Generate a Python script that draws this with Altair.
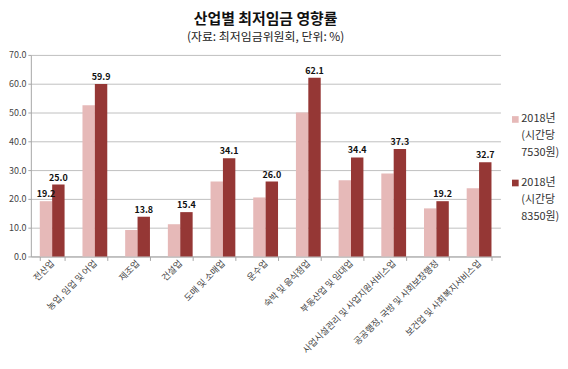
import altair as alt
import pandas as pd

categories = ["전산업", "농업, 임업 및 어업", "제조업", "건설업", "도매 및 소매업", "운수업",
              "숙박 및 음식점업", "부동산업 및 임대업", "사업시설관리 및 사업지원서비스업",
              "공공행정, 국방 및 사회보장행정", "보건업 및 사회복지서비스업"]
series_names = ["2018년|(시간당|7530원)", "2018년|(시간당|8350원)"]
values_7530 = [19.2, 52.5, 9.2, 11.2, 26.0, 20.5, 50.0, 26.5, 28.8, 16.7, 23.7]
values_8350 = [25.0, 59.9, 13.8, 15.4, 34.1, 26.0, 62.1, 34.4, 37.3, 19.2, 32.7]
labels_7530 = ["19.2", "", "", "", "", "", "", "", "", "", ""]
labels_8350 = [f"{v:.1f}" for v in values_8350]
colors = ["#E6B9B8", "#953735"]

rows = []
for i, c in enumerate(categories):
    rows.append({"cat": c, "series": series_names[0], "value": values_7530[i], "label": labels_7530[i]})
    rows.append({"cat": c, "series": series_names[1], "value": values_8350[i], "label": labels_8350[i]})
df = pd.DataFrame(rows)
legend_df = pd.DataFrame({"series": series_names, "idx": list(range(len(series_names)))})

FONT = "Noto Sans CJK KR"

x = alt.X("cat:N", sort=categories, title=None,
          scale=alt.Scale(paddingInner=0.42, paddingOuter=0.21),
          axis=alt.Axis(labelAngle=-45, labelAlign="right", labelBaseline="middle",
                        labelFontSize=9, labelColor="#444444", labelFont=FONT,
                        tickBand="extent", tickSize=4, tickColor="#A6A6A6",
                        domainColor="#A6A6A6", labelPadding=1, labelLimit=300))
xo = alt.XOffset("series:N", sort=series_names)
y = alt.Y("value:Q", title=None,
          scale=alt.Scale(domain=[0, 70]),
          axis=alt.Axis(values=[0, 10, 20, 30, 40, 50, 60, 70], format=".1f",
                        labelFontSize=9, labelColor="#444444", labelFont=FONT,
                        gridColor="#BFBFBF", tickSize=3, tickColor="#A6A6A6",
                        domainColor="#A6A6A6", labelPadding=2))
color_scale = alt.Scale(domain=series_names, range=colors)
color = alt.Color("series:N", sort=series_names, scale=color_scale, legend=None)

bars = alt.Chart(df).mark_bar(size=12.5).encode(x=x, xOffset=xo, y=y, color=color)
text = alt.Chart(df).mark_text(dy=-7, fontSize=9, fontWeight="bold", font=FONT, color="#111111").encode(
    x=x, xOffset=xo, y=y, text="label:N")

leg_base = alt.Chart(legend_df).transform_calculate(
    ly="65 + 64 * datum.idx", ty="59 + 64 * datum.idx")
leg_sq = leg_base.mark_square(size=45, opacity=1).encode(
    x=alt.value(488), y=alt.Y("ly:Q", scale=None), color=color)
leg_tx = leg_base.mark_text(lineBreak="|", lineHeight=17, align="left", baseline="top",
                            fontSize=11, font=FONT, color="#333333").encode(
    x=alt.value(494), y=alt.Y("ty:Q", scale=None), text="series:N")

chart = alt.layer(bars, text, leg_sq, leg_tx).properties(
    width=473, height=203,
    padding={"left": 0, "top": 3, "right": 0, "bottom": 0},
    title=alt.Title("산업별 최저임금 영향률", subtitle="(자료: 최저임금위원회, 단위: %)",
                    font=FONT, fontSize=15, fontWeight="bold", color="#111111",
                    subtitleFont=FONT, subtitleFontSize=12, subtitleColor="#222222",
                    subtitlePadding=5, offset=8, frame="group", anchor="middle"),
).configure_view(stroke=None)

chart.save("out.html", embed_options={"renderer": "svg", "actions": False})
